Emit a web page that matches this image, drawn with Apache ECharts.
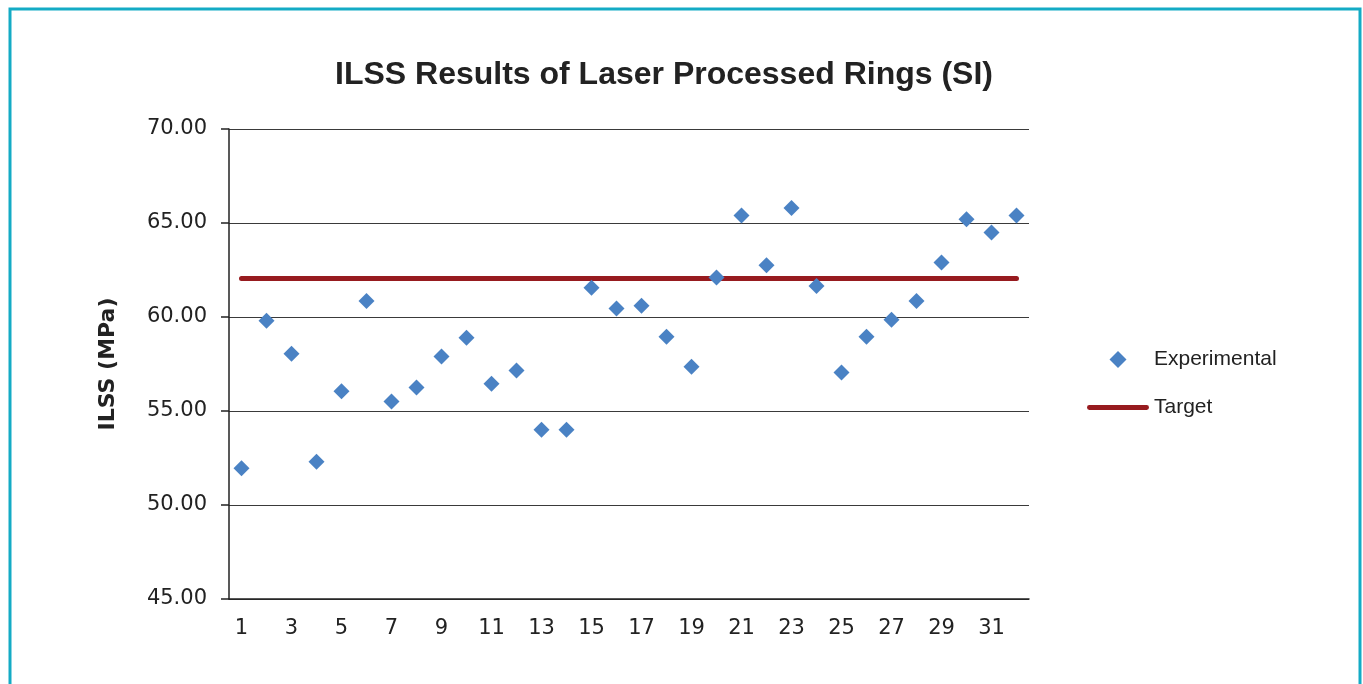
<!DOCTYPE html>
<html style="height: 100%">
<head>
    <meta charset="utf-8">
</head>
<body style="height: 100%; margin: 0; background: #fff">
    <div id="container" style="width: 1363px; height: 684px"></div>
    <script src="https://cdn.jsdelivr.net/npm/echarts@6/dist/echarts.min.js"></script>
    <script type="text/javascript">
        var rings = [];
        for (var i = 1; i <= 32; i++) rings.push(String(i));

        var experimental = [51.95, 59.8, 58.05, 52.3, 56.05, 60.85, 55.5, 56.25, 57.9, 58.9,
            56.45, 57.15, 54.0, 54.0, 61.55, 60.45, 60.6, 58.95, 57.35, 62.1,
            65.4, 62.75, 65.8, 61.65, 57.05, 58.95, 59.85, 60.85, 62.9, 65.2,
            64.5, 65.4];
        var targetValue = 62.05;
        var target = rings.map(function() { return targetValue; });

        var dom = document.getElementById("container");
        var myChart = echarts.init(dom);
        var option = {
            animation: false,
            textStyle: { fontFamily: 'DejaVu Sans, sans-serif' },
            graphic: [{
                type: 'rect',
                shape: { x: 10, y: 9, width: 1350, height: 720 },
                style: { fill: 'none', stroke: '#14abc5', lineWidth: 3 }
            }],
            title: {
                text: 'ILSS Results of Laser Processed Rings (SI)',
                left: 330,
                top: 54,
                textStyle: { fontSize: 32, fontWeight: 'bold', color: '#222', fontFamily: 'Liberation Sans, Arial, sans-serif' }
            },
            legend: {
                orient: 'vertical',
                left: 1082,
                top: 344,
                itemWidth: 62,
                itemHeight: 17,
                itemGap: 27,
                textStyle: { fontSize: 21, lineHeight: 20, color: '#222', fontFamily: 'Liberation Sans, Arial, sans-serif' },
                data: [
                    { name: 'Experimental', icon: 'path://M0,-1L1,0L0,1L-1,0Z' },
                    { name: 'Target', icon: 'path://M0,0H60A2.5,2.5,0,0,1,60,5H0A2.5,2.5,0,0,1,0,0Z' }
                ]
            },
            grid: { left: 229, right: 334, top: 129, bottom: 85 },
            xAxis: {
                type: 'category',
                data: rings,
                boundaryGap: true,
                axisLine: { lineStyle: { color: '#222', width: 1.5 } },
                axisTick: { alignWithLabel: true, interval: 1, length: 7, lineStyle: { color: '#222', width: 1.5 } },
                axisLabel: { interval: 1, fontSize: 21, color: '#222', margin: 19 }
            },
            yAxis: {
                type: 'value',
                min: 45,
                max: 70,
                interval: 5,
                name: 'ILSS (MPa)',
                nameLocation: 'middle',
                nameRotate: 90,
                nameGap: 110,
                nameTextStyle: { fontSize: 22, fontWeight: 'bold', color: '#222' },
                axisLine: { show: true, lineStyle: { color: '#222', width: 1.5 } },
                axisTick: { show: true, length: 8, lineStyle: { color: '#222', width: 1.5 } },
                axisLabel: {
                    fontSize: 21, color: '#222', margin: 22,
                    formatter: function(v) { return v.toFixed(2); }
                },
                splitLine: { lineStyle: { color: '#3a3a3a', width: 1 } }
            },
            series: [{
                name: 'Target',
                type: 'line',
                data: target,
                symbol: 'none',
                lineStyle: { color: '#971b1f', width: 5, cap: 'round' },
                itemStyle: { color: '#971b1f' }
            }, {
                name: 'Experimental',
                type: 'scatter',
                data: experimental,
                symbol: 'diamond',
                symbolSize: 16,
                itemStyle: { color: '#4a82c4', opacity: 1 },
                z: 3
            }]
        };
        myChart.setOption(option);
    </script>
</body>
</html>
